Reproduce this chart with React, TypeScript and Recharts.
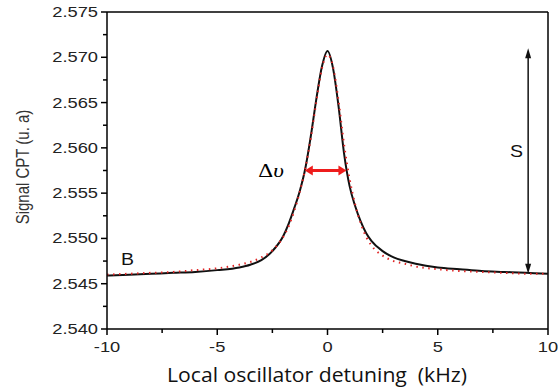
import { LineChart, Line, XAxis, YAxis, ReferenceLine, ReferenceDot } from "recharts";

// detuning (kHz)
const detuning = [
  -10, -9, -8, -7, -6, -5, -4, -3.5, -3, -2.5, -2, -1.75, -1.5, -1.25, -1, -0.75, -0.5, -0.25, 0,
  0.25, 0.5, 0.75, 1, 1.25, 1.5, 1.75, 2, 2.5, 3, 3.5, 4, 5, 6, 7, 8, 9, 10,
];
// measured CPT signal (black)
const signal = [
  2.5459, 2.546, 2.5461, 2.5462, 2.5463, 2.5465, 2.5468, 2.5471, 2.5476, 2.5486, 2.5503, 2.5517,
  2.5534, 2.5553, 2.5578, 2.5614, 2.5655, 2.569, 2.5707, 2.5688, 2.5646, 2.5594, 2.5558, 2.5536,
  2.5519, 2.5506, 2.5497, 2.5486, 2.5479, 2.5475, 2.5472, 2.5468, 2.5466, 2.5464, 2.5463, 2.5462,
  2.5461,
];
// lorentzian fit (red dots)
const fit = [
  2.546, 2.5461, 2.5462, 2.5463, 2.5465, 2.5467, 2.5471, 2.5474, 2.5479, 2.5487, 2.5502, 2.5514,
  2.5531, 2.5552, 2.5578, 2.5612, 2.5652, 2.5688, 2.5703, 2.569, 2.5652, 2.5604, 2.5566, 2.5538,
  2.5517, 2.5502, 2.5492, 2.5481, 2.5475, 2.5472, 2.5469, 2.5466, 2.5464, 2.5463, 2.5462, 2.5461,
  2.5461,
];
const yTicks = [
  2.54, 2.5425, 2.545, 2.5475, 2.55, 2.5525, 2.555, 2.5575, 2.56, 2.5625, 2.565, 2.5675, 2.57,
  2.5725, 2.575,
];
const xTicks = [-10, -7.5, -5, -2.5, 0, 2.5, 5, 7.5, 10];

// annotations
const widthArrow = [
  { x: -1.03, y: 2.5575 },
  { x: 0.86, y: 2.5575 },
];
const heightArrow = [
  { x: 9.1, y: 2.5461 },
  { x: 9.1, y: 2.571 },
];

const SX = 1.22; // source image is stretched horizontally
const SANS = "Liberation Sans, Arial, sans-serif";

const data = detuning.map((x, i) => ({ x, signal: signal[i], fit: fit[i] }));

function YTick({ x, y, payload }: any) {
  const v = payload.value;
  const major = Math.round(v * 1000) % 5 === 0;
  return (
    <g>
      <line x1={x - (major ? 6 : 4)} x2={x} y1={y} y2={y} stroke="#000" strokeWidth={1.5} />
      {major && (
        <text
          transform={`translate(${x - 9},${y}) scale(${SX},1)`}
          textAnchor="end"
          dy={5}
          fontSize={15}
          fontFamily={SANS}
          fill="#222"
        >
          {v.toFixed(3)}
        </text>
      )}
    </g>
  );
}

function XTick({ x, y, payload }: any) {
  const v = payload.value;
  const major = v % 5 === 0;
  return (
    <g>
      <line x1={x} x2={x} y1={y} y2={y + (major ? 6 : 4)} stroke="#000" strokeWidth={1.5} />
      {major && (
        <text
          transform={`translate(${x},${y + 23}) scale(${SX},1)`}
          textAnchor="middle"
          fontSize={15}
          fontFamily={SANS}
          fill="#222"
        >
          {v}
        </text>
      )}
    </g>
  );
}

function arrow(color: string, w: number, head: number, half: number, label?: string) {
  return (p: any) => {
    const { x1, y1, x2, y2 } = p;
    const dx = x2 - x1;
    const dy = y2 - y1;
    const len = Math.hypot(dx, dy) || 1;
    const ux = dx / len;
    const uy = dy / len;
    const nx = -uy;
    const ny = ux;
    const tri = (tx: number, ty: number, sx: number, sy: number) =>
      `${tx},${ty} ${tx - sx * head + nx * half},${ty - sy * head + ny * half} ${tx - sx * head - nx * half},${ty - sy * head - ny * half}`;
    return (
      <g>
        <line
          x1={x1 + ux * head * 0.8}
          y1={y1 + uy * head * 0.8}
          x2={x2 - ux * head * 0.8}
          y2={y2 - uy * head * 0.8}
          stroke={color}
          strokeWidth={w}
        />
        <polygon points={tri(x2, y2, ux, uy)} fill={color} />
        <polygon points={tri(x1, y1, -ux, -uy)} fill={color} />
        {label && (
          <text
            transform={`translate(${x1 - 21},${y1 + 6}) scale(${SX},1)`}
            textAnchor="end"
            fontSize={19}
            fontFamily="Liberation Serif, DejaVu Serif, serif"
            fill="#000"
          >
            Δ<tspan fontStyle="italic">υ</tspan>
          </text>
        )}
      </g>
    );
  };
}

function letter(t: string) {
  return (p: any) => (
    <text
      transform={`translate(${p.cx},${p.cy}) scale(${SX},1)`}
      textAnchor="middle"
      fontSize={16}
      fontFamily={SANS}
      fill="#111"
    >
      {t}
    </text>
  );
}

export default function App() {
  return (
    <div style={{ position: "absolute", left: 0, top: 0, background: "#fff" }}>
      <LineChart width={558} height={387} data={data} margin={{ top: 12, right: 10, bottom: 0, left: 47 }}>
        <XAxis
          type="number"
          dataKey="x"
          domain={[-10, 10]}
          ticks={xTicks}
          interval={0}
          tickSize={0}
          tickMargin={0}
          tickLine={false}
          tick={(p: any) => <XTick {...p} />}
          axisLine={{ stroke: "#000", strokeWidth: 1.5 }}
          height={58}
        />
        <YAxis
          type="number"
          domain={[2.54, 2.575]}
          ticks={yTicks}
          interval={0}
          tickSize={0}
          tickMargin={0}
          tickLine={false}
          tick={(p: any) => <YTick {...p} />}
          axisLine={{ stroke: "#000", strokeWidth: 1.5 }}
          width={60}
          allowDataOverflow
        />
        <ReferenceLine y={2.575} stroke="#000" strokeWidth={1.5} />
        <ReferenceLine x={10} stroke="#000" strokeWidth={1.5} />
        <Line
          type="monotone"
          dataKey="signal"
          stroke="#111"
          strokeWidth={2}
          dot={false}
          isAnimationActive={false}
        />
        <Line
          type="monotone"
          dataKey="fit"
          stroke="#e02525"
          strokeWidth={2}
          strokeDasharray="1.5 4.5"
          dot={false}
          isAnimationActive={false}
        />
        <ReferenceLine segment={heightArrow} ifOverflow="visible" shape={arrow("#111", 1.5, 10, 3)} />
        <ReferenceLine segment={widthArrow} ifOverflow="visible" shape={arrow("#ee1c1c", 3, 8, 5, "dv")} />
        <ReferenceDot x={-9.07} y={2.5471} r={0} ifOverflow="visible" shape={letter("B")} />
        <ReferenceDot x={8.57} y={2.559} r={0} ifOverflow="visible" shape={letter("S")} />
        <text
          transform={`translate(29,167) scale(${SX},1) rotate(-90)`}
          textAnchor="middle"
          fontSize={15}
          fontFamily={SANS}
          fill="#333"
        >
          Signal CPT (u. a)
        </text>
        <text
          x={317}
          y={382}
          textAnchor="middle"
          fontSize={20}
          fontFamily="Open Sans, Noto Sans, sans-serif"
          textLength={300}
          lengthAdjust="spacingAndGlyphs"
          fill="#111"
          style={{ whiteSpace: "pre" }}
        >
          {"Local oscillator detuning  (kHz)"}
        </text>
      </LineChart>
    </div>
  );
}
